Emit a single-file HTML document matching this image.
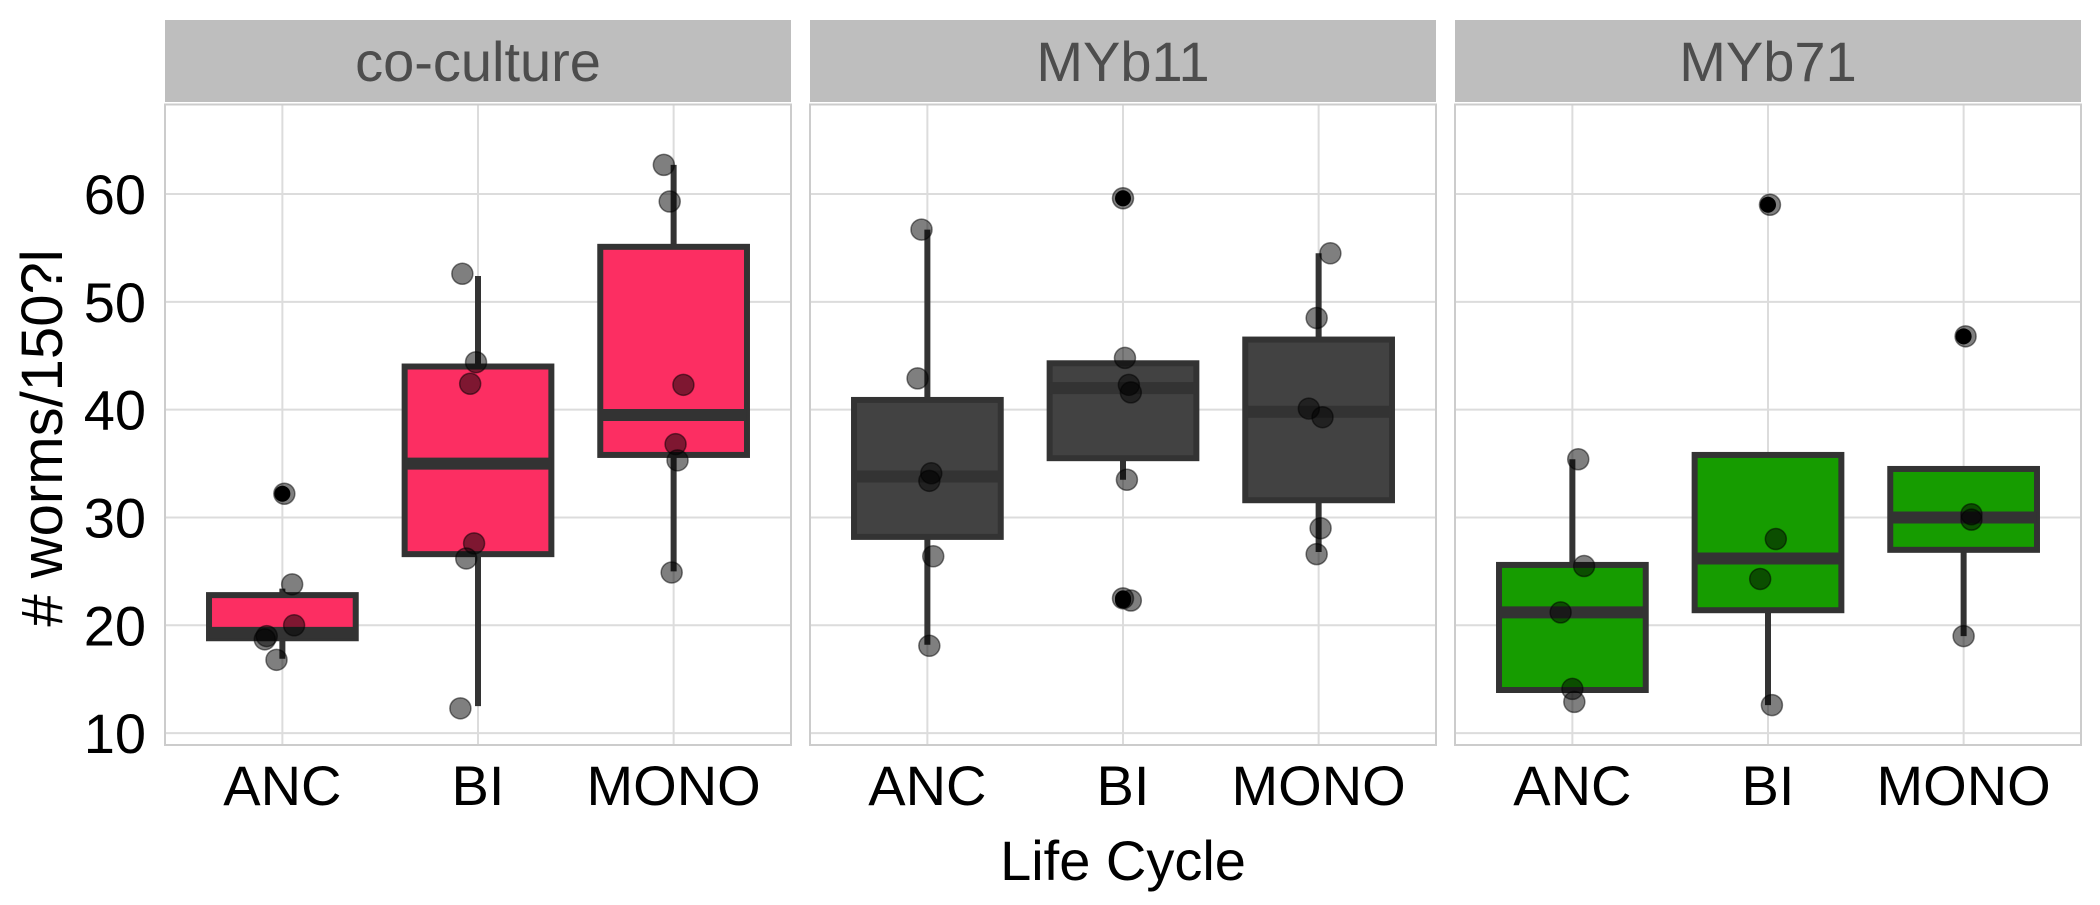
<!DOCTYPE html>
<html><head><meta charset="utf-8"><style>
body{margin:0;background:#fff}
svg text{font-family:"Liberation Sans",Arial,sans-serif}
</style></head><body>
<svg id="chart" width="2100" height="900" xmlns="http://www.w3.org/2000/svg"></svg>
<script>
const panels = ["co-culture","MYb11","MYb71"];
const categories = ["ANC","BI","MONO"];
const fills = ["#FC2E62","#424242","#169C00"];
const yTicks = [10,20,30,40,50,60];
// [q1, median, q3, whiskerLow, whiskerHigh] per panel, per category
const boxStats = [
 [[18.8,19.3,22.8,16.9,23.4],[26.6,35.0,44.0,12.5,52.4],[35.8,39.5,55.1,25.0,62.7]],
 [[28.2,33.8,40.9,18.2,56.7],[35.5,42.0,44.3,33.5,44.3],[31.6,39.8,46.5,26.8,54.5]],
 [[14.0,21.2,25.6,14.0,35.4],[21.4,26.2,35.8,12.6,35.8],[27.0,30.0,34.5,19.0,34.5]]
];
const outliers = [
 [[32.2],[],[]],
 [[],[59.6,22.5,22.3],[]],
 [[],[59.0],[46.8]]
];
const pointValues = [
 [[32.2,23.8,20.0,19.0,18.7,16.8],[52.6,44.4,42.4,27.6,26.2,12.3],[62.7,59.3,42.3,36.8,35.3,24.9]],
 [[56.7,42.9,34.1,33.4,26.4,18.1],[59.6,44.8,42.3,41.6,33.5,22.5,22.3],[54.5,48.5,40.1,39.3,29.0,26.6]],
 [[35.4,25.5,21.2,14.1,12.9],[59.0,28.0,24.3,12.6],[46.8,30.3,29.8,19.0]]
];
const pointJitter = [
 [[0.01,0.05,0.06,-0.08,-0.09,-0.03],[-0.08,-0.01,-0.04,-0.02,-0.06,-0.09],[-0.05,-0.02,0.05,0.01,0.02,-0.01]],
 [[-0.03,-0.05,0.02,0.01,0.03,0.01],[0.0,0.01,0.03,0.04,0.02,0.0,0.04],[0.06,-0.01,-0.05,0.02,0.01,-0.01]],
 [[0.03,0.06,-0.06,0.0,0.01],[0.01,0.04,-0.04,0.02],[0.01,0.04,0.04,0.0]]
];
const NS="http://www.w3.org/2000/svg";
const svg=document.getElementById('chart');
function mk(tag,attrs,parent){const e=document.createElementNS(NS,tag);for(const k in attrs)e.setAttribute(k,attrs[k]);(parent||svg).appendChild(e);return e;}
const plotTop=104.5, plotBot=745, stripTop=20, stripBot=102;
const panelX=[165,810,1455], panelW=626;
const yMin=8.9, yMax=68.3;
function yPx(v){return plotBot-(v-yMin)/(yMax-yMin)*(plotBot-plotTop);}
function xPx(p,c){return panelX[p]+(0.6+c)/3.2*panelW;}
const unit=panelW/3.2;

yTicks.forEach(t=>{
 const tx=mk('text',{x:146,y:yPx(t)+20,'text-anchor':'end','font-size':56,fill:'#000'});
 tx.textContent=t;
 
 
});
const yt=mk('text',{x:0,y:0,transform:'translate(62,438) rotate(-90)','text-anchor':'middle','font-size':58,fill:'#000'});
yt.textContent='# worms/150?l';


const xt=mk('text',{x:1123,y:880,'text-anchor':'middle','font-size':56,fill:'#000'});
xt.textContent='Life Cycle';



panels.forEach((name,p)=>{
 const g=mk('g',{});
 
 
 const strip=mk('rect',{x:panelX[p],y:stripTop,width:panelW,height:stripBot-stripTop,fill:'#bebebe'},g);
 
 
 const st=mk('text',{x:panelX[p]+panelW/2,y:81,'text-anchor':'middle','font-size':56,fill:'#4d4d4d'},g);
 st.textContent=name;
 
 
 yTicks.forEach(t=>{
  const l=mk('line',{x1:panelX[p],x2:panelX[p]+panelW,y1:yPx(t),y2:yPx(t),stroke:'#dcdcdc','stroke-width':2},g);
  
  
 });
 categories.forEach((c,ci)=>{
  const l=mk('line',{x1:xPx(p,ci),x2:xPx(p,ci),y1:plotTop,y2:plotBot,stroke:'#dcdcdc','stroke-width':2},g);
  
  
  const lab=mk('text',{x:xPx(p,ci),y:805,'text-anchor':'middle','font-size':56,fill:'#000'},g);
  lab.textContent=c;
  
  
 });
 const border=mk('rect',{x:panelX[p],y:plotTop,width:panelW,height:plotBot-plotTop,fill:'none',stroke:'#cccccc','stroke-width':2},g);
 
 
 categories.forEach((c,ci)=>{
  const s=boxStats[p][ci], cx=xPx(p,ci), hw=0.375*unit;
  const wl=mk('line',{x1:cx,x2:cx,y1:yPx(s[3]),y2:yPx(s[4]),stroke:'#333','stroke-width':6},g);
  
  
  const box=mk('rect',{x:cx-hw,y:yPx(s[2]),width:2*hw,height:yPx(s[0])-yPx(s[2]),fill:fills[p],stroke:'#333','stroke-width':6},g);
  
  
  const md=mk('line',{x1:cx-hw,x2:cx+hw,y1:yPx(s[1]),y2:yPx(s[1]),stroke:'#333','stroke-width':12},g);
  
  
  outliers[p][ci].forEach(v=>{
   const o=mk('circle',{cx:cx,cy:yPx(v),r:8,fill:'#000'},g);
   
   
  });
  pointValues[p][ci].forEach((v,i)=>{
   const pt=mk('circle',{cx:cx+pointJitter[p][ci][i]*unit,cy:yPx(v),r:10.5,fill:'rgba(0,0,0,0.5)',stroke:'rgba(0,0,0,0.5)','stroke-width':1.5},g);
   
   
  });
 });
});
</script>
</body></html>
